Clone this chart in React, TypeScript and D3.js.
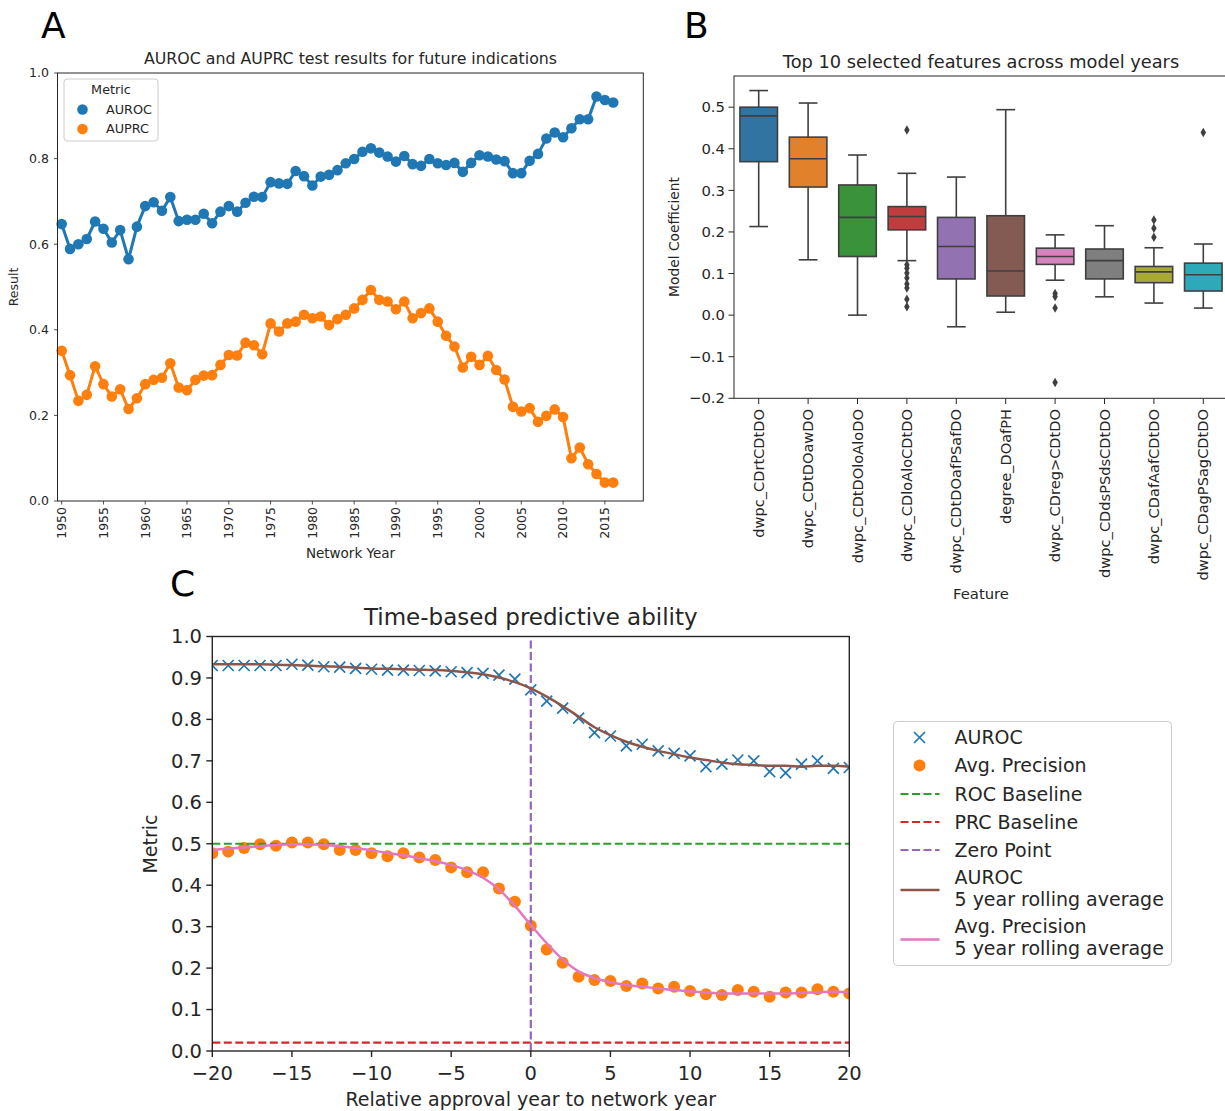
import React from 'react';
import * as d3 from 'd3';

const FONT = "DejaVu Sans, Liberation Sans, sans-serif";

// ---------- Panel A data ----------
const yearsA = [1950,1951,1952,1953,1954,1955,1956,1957,1958,1959,1960,1961,1962,1963,1964,1965,1966,1967,1968,1969,1970,1971,1972,1973,1974,1975,1976,1977,1978,1979,1980,1981,1982,1983,1984,1985,1986,1987,1988,1989,1990,1991,1992,1993,1994,1995,1996,1997,1998,1999,2000,2001,2002,2003,2004,2005,2006,2007,2008,2009,2010,2011,2012,2013,2014,2015,2016];
const aurocA = [0.647,0.589,0.600,0.612,0.653,0.636,0.604,0.633,0.565,0.641,0.689,0.698,0.678,0.710,0.654,0.657,0.657,0.671,0.649,0.676,0.689,0.676,0.697,0.711,0.710,0.745,0.742,0.741,0.771,0.759,0.737,0.758,0.762,0.773,0.789,0.799,0.816,0.824,0.814,0.805,0.793,0.806,0.787,0.783,0.799,0.789,0.785,0.790,0.769,0.790,0.808,0.805,0.798,0.794,0.766,0.766,0.795,0.811,0.847,0.861,0.850,0.871,0.892,0.892,0.945,0.937,0.931];
const auprcA = [0.351,0.294,0.234,0.248,0.315,0.273,0.244,0.261,0.215,0.240,0.273,0.283,0.288,0.322,0.265,0.259,0.283,0.293,0.294,0.318,0.341,0.340,0.370,0.364,0.343,0.415,0.396,0.415,0.419,0.435,0.427,0.431,0.411,0.425,0.435,0.450,0.470,0.493,0.470,0.466,0.448,0.466,0.427,0.439,0.450,0.419,0.386,0.361,0.312,0.337,0.318,0.339,0.306,0.284,0.220,0.209,0.217,0.185,0.199,0.214,0.196,0.100,0.125,0.086,0.063,0.043,0.043];
const yearTicksA = [1950,1955,1960,1965,1970,1975,1980,1985,1990,1995,2000,2005,2010,2015];
const valueTicksA = [0.0,0.2,0.4,0.6,0.8,1.0];

// ---------- Panel B data ----------
const features = ["dwpc_CDrtCDtDO","dwpc_CDtDOawDO","dwpc_CDtDOloAloDO","dwpc_CDloAloCDtDO","dwpc_CDtDOafPSafDO","degree_DOafPH","dwpc_CDreg>CDtDO","dwpc_CDdsPSdsCDtDO","dwpc_CDafAafCDtDO","dwpc_CDagPSagCDtDO"];
const boxColors = ["#3274A1","#E1812C","#3A923A","#C03D3E","#9372B2","#845B53","#D684BD","#7F7F7F","#A9AA35","#2EA9B8"];
const whiskLow = [0.213,0.133,0.000,0.131,-0.028,0.007,0.084,0.044,0.029,0.017];
const q1 = [0.369,0.308,0.141,0.205,0.087,0.046,0.122,0.087,0.078,0.058];
const medians = [0.479,0.376,0.235,0.237,0.165,0.106,0.141,0.131,0.104,0.097];
const q3 = [0.500,0.428,0.313,0.261,0.235,0.239,0.161,0.159,0.117,0.125];
const whiskHigh = [0.540,0.510,0.385,0.341,0.332,0.494,0.193,0.215,0.162,0.171];
const outliers = [[],[],[],[0.445,0.121,0.113,0.101,0.089,0.075,0.065,0.038,0.020],[],[],[0.052,0.045,0.017,-0.162],[],[0.229,0.209,0.187],[0.439]];
const valueTicksB = [-0.2,-0.1,0.0,0.1,0.2,0.3,0.4,0.5];

// ---------- Panel C data ----------
const relYears = [-20,-19,-18,-17,-16,-15,-14,-13,-12,-11,-10,-9,-8,-7,-6,-5,-4,-3,-2,-1,0,1,2,3,4,5,6,7,8,9,10,11,12,13,14,15,16,17,18,19,20];
const aurocC = [0.930,0.930,0.930,0.930,0.930,0.933,0.931,0.927,0.926,0.923,0.921,0.919,0.919,0.918,0.917,0.915,0.913,0.911,0.907,0.897,0.871,0.844,0.827,0.803,0.768,0.760,0.736,0.740,0.724,0.718,0.712,0.686,0.692,0.702,0.700,0.674,0.671,0.692,0.700,0.682,0.684];
const precC = [0.477,0.481,0.490,0.499,0.495,0.503,0.503,0.499,0.485,0.485,0.477,0.470,0.477,0.467,0.461,0.443,0.431,0.431,0.392,0.360,0.302,0.245,0.213,0.179,0.171,0.169,0.157,0.163,0.151,0.155,0.145,0.137,0.135,0.147,0.143,0.131,0.141,0.141,0.149,0.143,0.139];
const aurocRoll = [0.933,0.933,0.933,0.933,0.932,0.931,0.930,0.928,0.927,0.925,0.923,0.922,0.921,0.920,0.919,0.917,0.914,0.909,0.901,0.890,0.875,0.855,0.832,0.807,0.781,0.762,0.746,0.734,0.724,0.716,0.708,0.702,0.696,0.692,0.690,0.688,0.688,0.686,0.688,0.688,0.686];
const precRoll = [0.485,0.488,0.491,0.494,0.497,0.499,0.499,0.497,0.494,0.490,0.484,0.478,0.472,0.465,0.458,0.449,0.436,0.418,0.390,0.350,0.304,0.260,0.221,0.192,0.176,0.166,0.159,0.155,0.151,0.147,0.144,0.141,0.139,0.139,0.139,0.139,0.139,0.140,0.142,0.143,0.142];
const rocBaseline = 0.5;
const prcBaseline = 0.02;
const zeroPoint = 0;
const xTicksC = [-20,-15,-10,-5,0,5,10,15,20];
const yTicksC = [0.0,0.1,0.2,0.3,0.4,0.5,0.6,0.7,0.8,0.9,1.0];

const fmtMinus = (v: number, digits: number) => {
  const s = v.toFixed(digits);
  return s.startsWith('-') ? '\u2212' + s.slice(1) : s;
};

export default function App() {
  const spine = "#262626";
  const textC = "#262626";

  // ===== Panel A =====
  const xA = d3.scaleLinear().domain([1949.5, 2019.6]).range([57.5, 643.3]);
  const yA = d3.scaleLinear().domain([0, 1]).range([501, 73]);
  const lineA = d3.line<number>().x((_, i) => xA(yearsA[i])).y(d => yA(d));

  // ===== Panel B =====
  const xB = d3.scaleBand<string>().domain(features).range([734, 1228]).padding(0);
  const yB = d3.scaleLinear().domain([-0.2, 0.575]).range([398.3, 76]);
  const bw = xB.bandwidth() * 0.76;
  const diamond = d3.symbol().type(d3.symbolDiamond).size(26)();

  // ===== Panel C =====
  const xC = d3.scaleLinear().domain([-20, 20]).range([212.3, 849.3]);
  const yC = d3.scaleLinear().domain([0, 1]).range([1051, 636.5]);
  const lineC = (arr: number[]) =>
    d3.line<number>().x((_, i) => xC(relYears[i])).y(d => yC(d)).curve(d3.curveMonotoneX)(arr) || '';

  const legendCx = 893.5, legendCy = 721.5;
  const fsC = 19;

  return (
    <svg width={1225} height={1111} style={{ position: 'absolute', left: 0, top: 0, background: '#fff' }} fontFamily={FONT}>
      <rect x={0} y={0} width={1225} height={1111} fill="#fff" />
      <defs>
        <clipPath id="clipC">
          <rect x={xC(-20)} y={yC(1)} width={xC(20) - xC(-20)} height={yC(0) - yC(1)} />
        </clipPath>
      </defs>

      {/* ================= Panel A ================= */}
      <text x={41} y={38} fontSize={36} fill="#000">A</text>
      <text x={350.5} y={64} fontSize={15.8} textAnchor="middle" fill={textC}>AUROC and AUPRC test results for future indications</text>
      {valueTicksA.map(v => (
        <g key={'ya' + v}>
          <line x1={57.5 - 3.5} x2={57.5} y1={yA(v)} y2={yA(v)} stroke={spine} strokeWidth={0.8} />
          <text x={49} y={yA(v)} dy="0.35em" fontSize={12.5} textAnchor="end" fill={textC}>{v.toFixed(1)}</text>
        </g>
      ))}
      {yearTicksA.map(v => (
        <g key={'xa' + v}>
          <line x1={xA(v)} x2={xA(v)} y1={501} y2={504.5} stroke={spine} strokeWidth={0.8} />
          <text transform={`translate(${xA(v)},${507}) rotate(-90)`} fontSize={12.5} textAnchor="end" dy="0.35em" fill={textC}>{v}</text>
        </g>
      ))}
      <text x={350.5} y={558} fontSize={13.5} textAnchor="middle" fill={textC}>Network Year</text>
      <text transform={`translate(${18},${287}) rotate(-90)`} fontSize={12.5} textAnchor="middle" fill={textC}>Result</text>
      <path d={lineA(aurocA) || ''} fill="none" stroke="#1f77b4" strokeWidth={3} strokeLinejoin="round" />
      {aurocA.map((v, i) => <circle key={'ap' + i} cx={xA(yearsA[i])} cy={yA(v)} r={5.3} fill="#1f77b4" />)}
      <path d={lineA(auprcA) || ''} fill="none" stroke="#ff7f0e" strokeWidth={3} strokeLinejoin="round" />
      {auprcA.map((v, i) => <circle key={'bp' + i} cx={xA(yearsA[i])} cy={yA(v)} r={5.3} fill="#ff7f0e" />)}
      <rect x={57.5} y={73} width={643.3 - 57.5} height={501 - 73} fill="none" stroke={spine} strokeWidth={1} />
      <rect x={64} y={79} width={94} height={62} rx={3} fill="#fff" fillOpacity={0.8} stroke="#ccc" strokeWidth={1} />
      <text x={111} y={90} dy="0.35em" fontSize={12.8} textAnchor="middle" fill={textC}>Metric</text>
      <circle cx={82.5} cy={109.5} r={5.3} fill="#1f77b4" />
      <text x={106} y={109.5} dy="0.35em" fontSize={12.8} fill={textC}>AUROC</text>
      <circle cx={82.5} cy={129} r={5.3} fill="#ff7f0e" />
      <text x={106} y={129} dy="0.35em" fontSize={12.8} fill={textC}>AUPRC</text>

      {/* ================= Panel B ================= */}
      <text x={684} y={38} fontSize={36} fill="#000">B</text>
      <text x={981} y={68} fontSize={17.8} textAnchor="middle" fill={textC}>Top 10 selected features across model years</text>
      {valueTicksB.map(v => (
        <g key={'yb' + v}>
          <line x1={734 - 5.5} x2={734} y1={yB(v)} y2={yB(v)} stroke={spine} strokeWidth={1} />
          <text x={725} y={yB(v)} dy="0.35em" fontSize={14.8} textAnchor="end" fill={textC}>{fmtMinus(v, 1)}</text>
        </g>
      ))}
      <text transform={`translate(${679},${237}) rotate(-90)`} fontSize={13.8} textAnchor="middle" fill={textC}>Model Coefficient</text>
      {features.map((f, i) => {
        const cx = (xB(f) || 0) + xB.bandwidth() / 2;
        const edge = "#3f3f3f";
        return (
          <g key={'box' + i}>
            <line x1={cx} x2={cx} y1={yB(whiskHigh[i])} y2={yB(q3[i])} stroke={edge} strokeWidth={1.6} />
            <line x1={cx} x2={cx} y1={yB(q1[i])} y2={yB(whiskLow[i])} stroke={edge} strokeWidth={1.6} />
            <line x1={cx - bw / 4} x2={cx + bw / 4} y1={yB(whiskHigh[i])} y2={yB(whiskHigh[i])} stroke={edge} strokeWidth={1.6} />
            <line x1={cx - bw / 4} x2={cx + bw / 4} y1={yB(whiskLow[i])} y2={yB(whiskLow[i])} stroke={edge} strokeWidth={1.6} />
            <rect x={cx - bw / 2} y={yB(q3[i])} width={bw} height={yB(q1[i]) - yB(q3[i])} fill={boxColors[i]} stroke={edge} strokeWidth={1.6} />
            <line x1={cx - bw / 2} x2={cx + bw / 2} y1={yB(medians[i])} y2={yB(medians[i])} stroke={edge} strokeWidth={1.6} />
            {outliers[i].map((o, j) => (
              <path key={j} d={diamond || ''} transform={`translate(${cx},${yB(o)})`} fill={edge} />
            ))}
            <line x1={cx} x2={cx} y1={398.3} y2={404} stroke={spine} strokeWidth={1} />
            <text transform={`translate(${cx},${409}) rotate(-90)`} fontSize={14.6} textAnchor="end" dy="0.35em" fill={textC}>{f}</text>
          </g>
        );
      })}
      <rect x={734} y={76} width={1228 - 734} height={398.3 - 76} fill="none" stroke={spine} strokeWidth={1} />
      <text x={981} y={599} fontSize={14.8} textAnchor="middle" fill={textC}>Feature</text>

      {/* ================= Panel C ================= */}
      <text x={170} y={596} fontSize={36} fill="#000">C</text>
      <text x={530.8} y={625} fontSize={23} textAnchor="middle" fill={textC}>Time-based predictive ability</text>
      {yTicksC.map(v => (
        <g key={'yc' + v}>
          <line x1={212.3 - 6} x2={212.3} y1={yC(v)} y2={yC(v)} stroke={spine} strokeWidth={1.4} />
          <text x={202} y={yC(v)} dy="0.35em" fontSize={19.5} textAnchor="end" fill={textC}>{v.toFixed(1)}</text>
        </g>
      ))}
      {xTicksC.map(v => (
        <g key={'xc' + v}>
          <line x1={xC(v)} x2={xC(v)} y1={1051} y2={1057} stroke={spine} strokeWidth={1.4} />
          <text x={xC(v)} y={1073} dy="0.35em" fontSize={19.5} textAnchor="middle" fill={textC}>{fmtMinus(v, 0)}</text>
        </g>
      ))}
      <text x={530.8} y={1106} fontSize={fsC} textAnchor="middle" fill={textC}>Relative approval year to network year</text>
      <text transform={`translate(${157},${844}) rotate(-90)`} fontSize={fsC} textAnchor="middle" fill={textC}>Metric</text>
      <g clipPath="url(#clipC)">
        {aurocC.map((v, i) => {
          const cx = xC(relYears[i]), cy = yC(v), s = 5.5;
          return (
            <path key={'xm' + i} d={`M${cx - s},${cy - s}L${cx + s},${cy + s}M${cx - s},${cy + s}L${cx + s},${cy - s}`} stroke="#1f77b4" strokeWidth={1.7} fill="none" />
          );
        })}
        {precC.map((v, i) => <circle key={'pm' + i} cx={xC(relYears[i])} cy={yC(v)} r={6} fill="#ff7f0e" />)}
        <line x1={xC(-20)} x2={xC(20)} y1={yC(rocBaseline)} y2={yC(rocBaseline)} stroke="#2ca02c" strokeWidth={2.2} strokeDasharray="8 3.5" />
        <line x1={xC(-20)} x2={xC(20)} y1={yC(prcBaseline)} y2={yC(prcBaseline)} stroke="#d62728" strokeWidth={2.2} strokeDasharray="8 3.5" />
        <line x1={xC(zeroPoint)} x2={xC(zeroPoint)} y1={yC(0)} y2={yC(1)} stroke="#9467bd" strokeWidth={2.2} strokeDasharray="8 3.5" />
        <path d={lineC(aurocRoll)} fill="none" stroke="#8c564b" strokeWidth={2.5} />
        <path d={lineC(precRoll)} fill="none" stroke="#e377c2" strokeWidth={2.5} />
      </g>
      <rect x={212.3} y={636.5} width={849.3 - 212.3} height={1051 - 636.5} fill="none" stroke={spine} strokeWidth={1.4} />

      {/* legend C */}
      <g transform={`translate(${legendCx},${legendCy})`} fontSize={fsC} fill={textC}>
        <rect x={0} y={0} width={278} height={244} rx={4} fill="#fff" stroke="#ccc" strokeWidth={1} />
        <path d={`M${26 - 5.5},${16 - 5.5}L${26 + 5.5},${16 + 5.5}M${26 - 5.5},${16 + 5.5}L${26 + 5.5},${16 - 5.5}`} stroke="#1f77b4" strokeWidth={1.7} />
        <text x={61} y={16} dy="0.35em">AUROC</text>
        <circle cx={26} cy={44} r={6} fill="#ff7f0e" />
        <text x={61} y={44} dy="0.35em">Avg. Precision</text>
        <line x1={7} x2={46} y1={72.5} y2={72.5} stroke="#2ca02c" strokeWidth={2.2} strokeDasharray="8 3.5" />
        <text x={61} y={72.5} dy="0.35em">ROC Baseline</text>
        <line x1={7} x2={46} y1={100.5} y2={100.5} stroke="#d62728" strokeWidth={2.2} strokeDasharray="8 3.5" />
        <text x={61} y={100.5} dy="0.35em">PRC Baseline</text>
        <line x1={7} x2={46} y1={128.5} y2={128.5} stroke="#9467bd" strokeWidth={2.2} strokeDasharray="8 3.5" />
        <text x={61} y={128.5} dy="0.35em">Zero Point</text>
        <line x1={7} x2={46} y1={168.5} y2={168.5} stroke="#8c564b" strokeWidth={2.5} />
        <text x={61} y={156} dy="0.35em">AUROC</text>
        <text x={61} y={178} dy="0.35em">5 year rolling average</text>
        <line x1={7} x2={46} y1={218} y2={218} stroke="#e377c2" strokeWidth={2.5} />
        <text x={61} y={205} dy="0.35em">Avg. Precision</text>
        <text x={61} y={227} dy="0.35em">5 year rolling average</text>
      </g>
    </svg>
  );
}
